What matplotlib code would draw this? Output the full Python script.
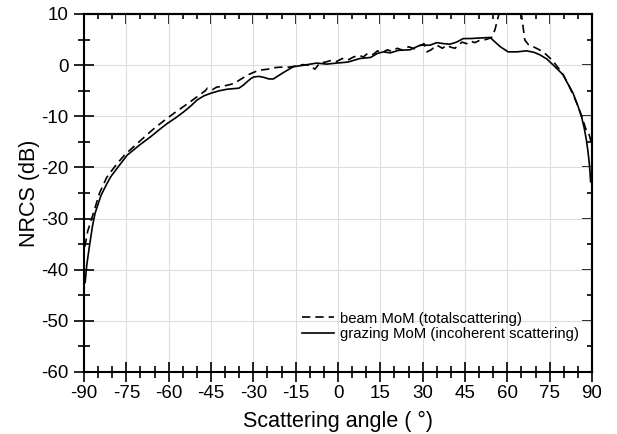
import matplotlib
matplotlib.use('Agg')
import matplotlib.pyplot as plt
from matplotlib.ticker import MultipleLocator

plt.rcParams['font.family'] = ['Liberation Sans', 'DejaVu Sans']
plt.rcParams['axes.unicode_minus'] = False

# grazing MoM (incoherent scattering), solid
ang_grazing = [-89.6, -89.0, -88.1, -87.0, -86.1, -84.0, -82.0, -80.5, -77.5, -74.7, -70.5,
               -66.4, -63.5, -60.5, -57.5, -54.6, -52.0, -49.9, -47.5, -45.1, -42.0,
               -39.2, -37.0, -35.1, -33.5, -32.1, -30.8, -29.8, -28.0, -26.2, -24.5,
               -22.9, -19.5, -15.8, -12.0, -7.6, -4.0, -0.5, 3.5, 7.8, 11.5, 14.0, 16.1,
               18.5, 21.5, 25.5, 29.1, 32.6, 35.0, 37.5, 39.7, 42.0, 44.4, 47.0, 50.0,
               53.9, 55.5, 57.5, 60.3, 63.5, 66.8, 69.5, 71.6, 74.0, 76.3, 79.8, 81.0,
               83.3, 85.1, 86.3, 87.2, 88.0, 88.6, 89.0, 89.3, 89.5]
nrcs_grazing = [-42.5, -39.0, -35.5, -31.5, -29.0, -25.5, -23.3, -21.8, -19.6, -17.6, -15.7,
                -14.0, -12.7, -11.4, -10.3, -9.1, -7.9, -6.8, -6.0, -5.5, -5.0,
                -4.7, -4.6, -4.5, -3.9, -3.2, -2.6, -2.3, -2.2, -2.4, -2.7,
                -2.7, -1.5, -0.3, 0.0, 0.4, 0.2, 0.4, 0.6, 1.3, 1.5, 2.3, 2.6,
                2.4, 2.9, 3.0, 3.9, 3.9, 4.4, 4.2, 4.1, 4.5, 5.2, 5.2, 5.3,
                5.4, 4.6, 3.6, 2.6, 2.6, 2.8, 2.5, 2.0, 1.2, 0.0, -1.9, -3.2,
                -5.5, -8.1, -10.1, -12.2, -14.6, -17.0, -19.0, -21.0, -22.8]

# beam MoM (total scattering), dashed
ang_beam = [-89.7, -88.7, -86.7, -84.5, -82.0, -80.0, -78.2, -75.5, -72.3, -68.5, -65.2,
            -61.5, -58.1, -55.0, -52.2, -49.5, -47.0, -46.3, -44.5, -43.0, -41.6,
            -39.0, -36.9, -34.0, -31.5, -29.4, -28.0, -25.0, -22.5, -20.5, -17.5,
            -15.0, -12.5, -10.0, -8.2, -6.5, -4.5, -2.5, -0.5, 1.5, 3.5, 5.5, 7.5,
            9.0, 10.5, 12.5, 14.0, 15.5, 17.5, 19.0, 21.0, 23.0, 25.0, 27.0, 29.0,
            30.5, 31.5, 33.0, 35.0, 37.0, 38.5, 40.0, 41.5, 42.5, 44.0, 45.5, 47.0,
            48.5, 50.0, 51.5, 53.0, 54.5, 55.6, 56.8, 58.0, 60.0, 62.5, 65.1, 66.2,
            67.5, 69.2, 71.0, 72.7, 74.5, 76.3, 78.0, 79.8, 82.0, 84.5, 86.5, 88.0,
            88.7, 89.3, 89.9]
nrcs_beam = [-35.5, -32.5, -29.0, -25.0, -22.0, -20.5, -19.2, -17.5, -15.9, -14.0, -12.4,
             -10.8, -9.4, -8.2, -7.1, -6.0, -5.0, -4.5, -4.8, -4.3, -4.2,
             -3.9, -3.6, -2.6, -1.8, -1.3, -1.0, -0.8, -0.5, -0.4, -0.4,
             -0.2, 0.1, 0.0, -0.8, 0.4, 0.6, 0.9, 0.7, 1.3, 1.0, 1.6, 1.9,
             1.6, 2.3, 2.1, 2.8, 2.4, 3.0, 2.7, 3.3, 2.9, 3.6, 3.2, 3.8,
             4.2, 2.6, 3.0, 3.9, 3.3, 3.9, 3.5, 3.3, 3.9, 4.5, 4.2, 4.7,
             4.4, 4.8, 4.9, 5.1, 5.5, 6.9, 9.5, 12.0, 16.0, 14.0, 9.5, 4.9,
             4.0, 3.6, 3.1, 2.6, 1.7, 0.7, -0.5, -1.9, -4.2, -7.3, -10.2, -12.8,
             -13.0, -14.2, -15.6]

xticks = list(range(-90, 91, 15))
yticks = list(range(-60, 11, 10))

fig = plt.figure(figsize=(6.17, 4.34), dpi=100)
ax = fig.add_axes([84/617, 1-372/434, (592-84)/617, (372-14)/434])

ax.plot(ang_beam, nrcs_beam, 'k--', lw=1.2, dashes=(5, 3), label='beam MoM (totalscattering)')
ax.plot(ang_grazing, nrcs_grazing, 'k-', lw=1.2, label='grazing MoM (incoherent scattering)')

ax.set_xlim(-90, 90)
ax.set_ylim(-60, 10)
ax.set_xticks(xticks)
ax.set_yticks(yticks)
ax.xaxis.set_minor_locator(MultipleLocator(5))
ax.yaxis.set_minor_locator(MultipleLocator(5))
# bottom/left ticks cross the axis line, top/right ticks point inward
ax.tick_params(which='both', direction='inout', width=1.2)
ax.tick_params(which='major', length=14, labelsize=13.5)
ax.tick_params(which='minor', length=8)
ax.tick_params(axis='x', pad=2.5)
ax.tick_params(axis='y', pad=4)
ax.grid(True, which='major', color='#dddddd', lw=0.8)
for s in ax.spines.values():
    s.set_linewidth(1.5)

top = ax.secondary_xaxis('top')
top.set_xticks(xticks)
top.xaxis.set_minor_locator(MultipleLocator(5))
top.tick_params(which='both', direction='in', width=1.2, labeltop=False)
top.tick_params(which='major', length=7)
top.tick_params(which='minor', length=3.5)
top.spines['top'].set_linewidth(1.5)

right = ax.secondary_yaxis('right')
right.set_yticks(yticks)
right.yaxis.set_minor_locator(MultipleLocator(5))
right.tick_params(which='both', direction='in', width=1.2, labelright=False)
right.tick_params(which='major', length=7)
right.tick_params(which='minor', length=3.5)
right.spines['right'].set_linewidth(1.5)

ax.set_xlabel('Scattering angle ( °)', fontsize=15.5, labelpad=6)
ax.set_ylabel('NRCS (dB)', fontsize=15.5, labelpad=1)

ax.legend(loc='lower right', bbox_to_anchor=(0.985, 0.07), frameon=False, fontsize=10.7,
          handlelength=2.2, handletextpad=0.35, labelspacing=0.1, borderaxespad=0)

fig.savefig('out.png', dpi=100)
